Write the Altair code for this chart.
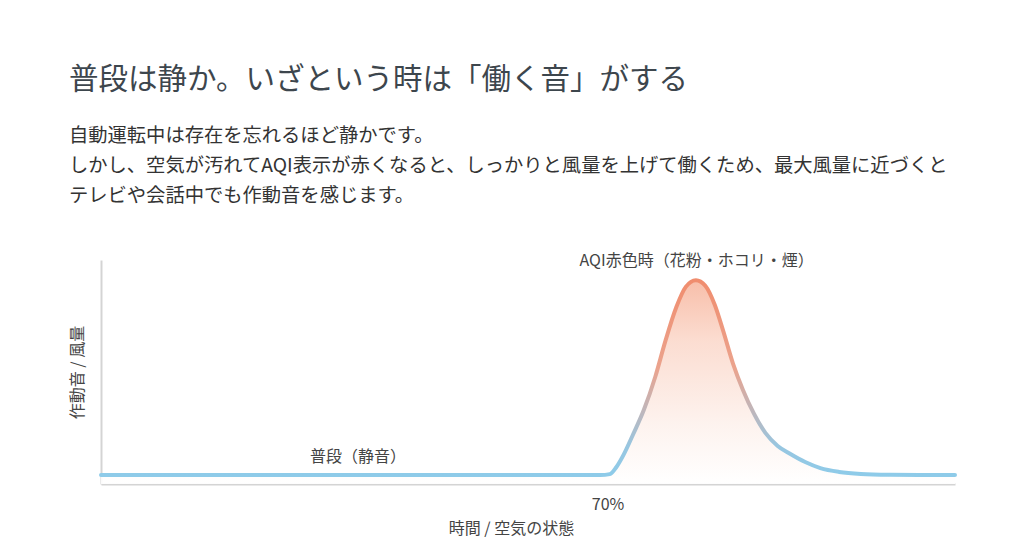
import altair as alt
import pandas as pd

FONT = "Noto Sans CJK JP"

# Curve: time / air state (x) vs fan noise / airflow (y)
TIME = [0, 20, 40, 60, 69, 70.3, 71.2, 72.2, 73.5, 75, 76.6, 78, 79.5, 80.8, 82.2,
        83.5, 84.8, 86, 87.3, 88.7, 90.2, 91.8, 93.5, 95.2, 97.3, 99.4, 102, 105, 109, 113, 118]
LEVEL = [4, 4, 4, 4, 4, 4.4, 7.5, 13, 22, 33, 48, 64, 79, 88, 91,
         88.5, 80, 68, 54, 42, 31.5, 22.8, 17, 13.5, 9.8, 7.1, 5.4, 4.5, 4.1, 4, 4]

# Annotations
ANN_TEXT = ["AQI赤色時（花粉・ホコリ・煙）", "普段（静音）"]
ANN_X = [82.3, 35.5]
ANN_Y = [99.5, 12]

TICK_VALUES = [70]

TITLE = "普段は静か。いざという時は「働く音」がする"
SUBTITLE = [
    "自動運転中は存在を忘れるほど静かです。",
    "しかし、空気が汚れてAQI表示が赤くなると、しっかりと風量を上げて働くため、最大風量に近づくと",
    "テレビや会話中でも作動音を感じます。",
]

df = pd.DataFrame({"t": TIME, "v": LEVEL})
ann = pd.DataFrame({"label": ANN_TEXT, "t": ANN_X, "v": ANN_Y})

x_scale = alt.Scale(domain=[0, 118], nice=False, zero=False)
y_scale = alt.Scale(domain=[0, 100], nice=False)

x_enc = alt.X(
    "t:Q", scale=x_scale,
    axis=alt.Axis(
        title="時間 / 空気の状態", values=TICK_VALUES, labelExpr="datum.value + '%'",
        grid=False, ticks=False, domainColor="#d4d4d4", domainWidth=2,
        labelFont=FONT, labelFontSize=16, labelColor="#444", labelPadding=12,
        titleFont=FONT, titleFontSize=16, titleColor="#444", titleFontWeight="normal",
        titlePadding=8, titleX=410,
    ),
)
y_enc = alt.Y(
    "v:Q", scale=y_scale,
    axis=alt.Axis(
        title="作動音 / 風量", labels=False, ticks=False, grid=False,
        domainColor="#d4d4d4", domainWidth=2,
        titleFont=FONT, titleFontSize=16, titleColor="#444", titleFontWeight="normal",
        titlePadding=16,
    ),
)

area_grad = alt.Gradient(
    gradient="linear", x1=0, y1=1, x2=0, y2=0,
    stops=[
        alt.GradientStop(color="#ffffff", offset=0),
        alt.GradientStop(color="#fdf1ec", offset=0.3),
        alt.GradientStop(color="#fbd9cc", offset=0.7),
        alt.GradientStop(color="#f7b7a0", offset=1),
    ],
)
line_grad = alt.Gradient(
    gradient="linear", x1=0, y1=1, x2=0, y2=0,
    stops=[
        alt.GradientStop(color="#8ecbe9", offset=0),
        alt.GradientStop(color="#98c6e0", offset=0.15),
        alt.GradientStop(color="#bdb7bd", offset=0.32),
        alt.GradientStop(color="#eba38d", offset=0.55),
        alt.GradientStop(color="#f08d6e", offset=1),
    ],
)

area = alt.Chart(df).mark_area(interpolate="monotone", fill=area_grad, opacity=0.9).encode(
    x=x_enc, y=y_enc
)
line = alt.Chart(df).mark_line(
    interpolate="monotone", stroke=line_grad, strokeWidth=4, strokeCap="round"
).encode(x=x_enc, y=y_enc)

labels = alt.Chart(ann).mark_text(
    font=FONT, fontSize=16, color="#444", align="center", baseline="middle"
).encode(x=alt.X("t:Q", scale=x_scale), y=alt.Y("v:Q", scale=y_scale), text="label:N")

chart = (
    alt.layer(area, line, labels)
    .properties(
        width=854,
        height=224,
        padding={"left": 61, "top": 57, "right": 20, "bottom": 4},
        background="white",
        title=alt.TitleParams(
            text=TITLE,
            subtitle=SUBTITLE,
            anchor="start",
            frame="bounds",
            font=FONT,
            fontSize=29.5,
            fontWeight="normal",
            color="#3d464d",
            subtitleFont=FONT,
            subtitleFontSize=19.3,
            subtitleColor="#333",
            subtitleLineHeight=30,
            subtitlePadding=31,
            offset=46,
        ),
    )
    .configure_view(stroke=None)
)

chart.save("out.html", embed_options={"renderer": "svg", "actions": False})
